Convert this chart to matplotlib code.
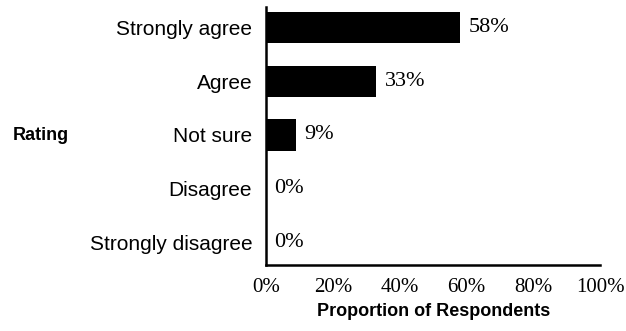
import matplotlib
matplotlib.use("Agg")
import matplotlib.pyplot as plt
from matplotlib.ticker import FuncFormatter

# Survey data
categories = ["Strongly agree", "Agree", "Not sure", "Disagree", "Strongly disagree"]
proportions = [58, 33, 9, 0, 0]
x_ticks = [0, 20, 40, 60, 80, 100]

fig = plt.figure(figsize=(6.26, 3.31), dpi=100)
ax = fig.add_axes([0.425, 0.199, 0.534, 0.780])

positions = list(range(len(categories)))
ax.barh(positions, proportions, height=0.58, color="black")

# value labels next to each bar
for pos, val in zip(positions, proportions):
    ax.annotate(f"{val}%", xy=(val, pos), xytext=(6, 0), textcoords="offset points",
                va="center", ha="left", fontsize=16, family="Liberation Serif")

ax.set_xlim(0, 100)
ax.set_ylim(4.43, -0.39)
ax.set_yticks(positions)
ax.set_yticklabels(categories, fontsize=15, family="Liberation Sans")
ax.set_xticks(x_ticks)
ax.xaxis.set_major_formatter(FuncFormatter(lambda v, _: f"{v:.0f}%"))
for lbl in ax.get_xticklabels():
    lbl.set_family("Liberation Serif")
    lbl.set_fontsize(15)
ax.tick_params(axis="both", length=0)
ax.tick_params(axis="y", pad=10)
ax.tick_params(axis="x", pad=9)

for side in ["top", "right"]:
    ax.spines[side].set_visible(False)
for side in ["left", "bottom"]:
    ax.spines[side].set_linewidth(1.8)
    ax.spines[side].set_color("black")

fig.text(41 / 626, 1 - 135 / 331, "Rating", ha="center", va="center",
         fontsize=13, fontweight="bold", family="Liberation Sans")
fig.text(434 / 626, 1 - 312 / 331, "Proportion of Respondents", ha="center", va="center",
         fontsize=13, fontweight="bold", family="Liberation Sans")

fig.savefig("out.png", dpi=100)
